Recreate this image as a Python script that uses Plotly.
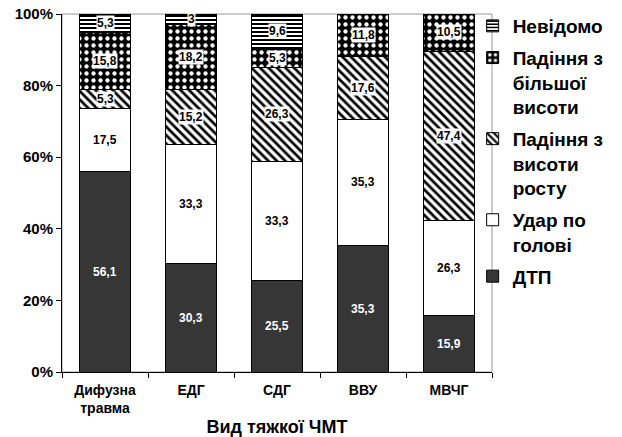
import plotly.graph_objects as go

categories = ["Дифузна<br>травма", "ЕДГ", "СДГ", "ВВУ", "МВЧГ"]

# Share of each cause (%) for every type of severe TBI, bottom to top
dtp = [56.1, 30.3, 25.5, 35.3, 15.9]
head_blow = [17.5, 33.3, 33.3, 35.3, 26.3]
fall_own_height = [5.3, 15.2, 26.3, 17.6, 47.4]
fall_greater_height = [15.8, 18.2, 5.3, 11.8, 10.5]
unknown = [5.3, 3, 9.6, 0, 0]

series = [
    ("ДТП", dtp, dict(color="#363636")),
    ("Удар по<br>голові", head_blow, dict(color="white")),
    ("Падіння з<br>висоти<br>росту", fall_own_height,
     dict(color="white", pattern=dict(shape="\\", fgcolor="black", bgcolor="white",
                                      size=6, solidity=0.45, fillmode="replace"))),
    ("Падіння з<br>більшої<br>висоти", fall_greater_height,
     dict(color="black", pattern=dict(shape=".", fgcolor="white", bgcolor="black",
                                      size=7, solidity=0.3, fillmode="replace"))),
    ("Невідомо", unknown,
     dict(color="white", pattern=dict(shape="-", fgcolor="black", bgcolor="white",
                                      size=4, solidity=0.5, fillmode="replace"))),
]

FONT = "Liberation Sans, Arial, sans-serif"

# Plot area: 14 px below the top edge, 65 px bottom margin
H, B, TOP = 437, 65, 14
paper_h = H - B
y_top = (paper_h - TOP) / paper_h

fig = go.Figure()
n = len(series)
for k, (name, vals, marker) in enumerate(series):
    marker = dict(marker)
    marker["line"] = dict(color="black", width=1)
    # legend lists the top segment first
    fig.add_trace(go.Bar(x=categories, y=vals, name=name, marker=marker,
                         legendgroup=name, legendrank=n - k, hoverinfo="skip"))

# Value labels at the middle of each segment
annotations = []
base = [0.0] * len(categories)
for idx, (name, vals, marker) in enumerate(series):
    for i, v in enumerate(vals):
        if v > 0:
            txt = f"{v:g}".replace(".", ",")
            if idx == 0:
                annotations.append(dict(x=categories[i], y=base[i] + v / 2, text=txt,
                                        showarrow=False,
                                        font=dict(family=FONT, size=12, color="white",
                                                  weight="bold")))
            else:
                annotations.append(dict(x=categories[i], y=base[i] + v / 2, text=txt,
                                        showarrow=False, bgcolor="white", borderpad=0,
                                        font=dict(family=FONT, size=12, color="black",
                                                  weight="bold")))
        base[i] += v

fig.update_layout(
    width=622, height=H,
    margin=dict(l=62, r=130, t=0, b=B),
    paper_bgcolor="white", plot_bgcolor="white",
    barmode="stack", bargap=0.4,
    font=dict(family=FONT, color="black", weight="bold"),
    annotations=annotations,
    showlegend=True,
    legend=dict(x=0.955, y=1 - 7 / paper_h, xanchor="left", yanchor="top",
                traceorder="grouped", valign="top", maxheight=1,
                font=dict(family=FONT, size=19, color="black", weight="bold"),
                itemwidth=30, tracegroupgap=4, bgcolor="rgba(0,0,0,0)"),
    xaxis=dict(showline=True, linecolor="black", linewidth=1, automargin=False,
               ticks="outside", tickson="boundaries", ticklen=5, tickcolor="black",
               ticklabelstandoff=5,
               tickfont=dict(family=FONT, size=14, weight="bold"),
               title=dict(text="Вид тяжкої ЧМТ", standoff=12,
                          font=dict(family=FONT, size=18, weight="bold"))),
    yaxis=dict(range=[0, 100], domain=[0, y_top],
               tickvals=[0, 20, 40, 60, 80, 100],
               ticktext=["0%", "20%", "40%", "60%", "80%", "100%"],
               showline=True, linecolor="black", linewidth=1, showgrid=False,
               zeroline=False, automargin=False,
               ticks="outside", ticklen=5, tickcolor="black",
               tickfont=dict(family=FONT, size=15, weight="bold")),
    shapes=[dict(type="rect", xref="paper", yref="paper", x0=0, x1=1, y0=0, y1=y_top,
                 line=dict(color="#999999", width=1), layer="below")],
)

fig.write_html("out.html")
